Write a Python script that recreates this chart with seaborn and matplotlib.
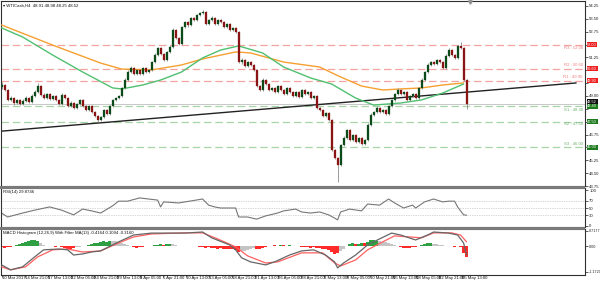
import numpy as np
import matplotlib
matplotlib.use("Agg")
import matplotlib.pyplot as plt
import matplotlib.transforms as mtransforms
import matplotlib.font_manager as fm
from matplotlib.patches import Rectangle
import seaborn as sns

# ---------------- data (8-hour candles) ----------------
first_open = 49.50
closes = [49.64, 49.35, 48.77, 48.88, 48.59, 48.77, 48.53, 48.71, 48.88, 48.65,
          49.00, 49.23, 49.58, 49.06, 48.88, 49.12, 48.82, 49.00, 48.77, 48.53,
          49.06, 48.88, 48.42, 48.59, 48.30, 48.53, 48.77, 48.42, 48.18, 48.42,
          48.07, 47.83, 47.60, 47.77, 48.18, 47.95, 48.42, 48.77, 48.88, 49.00,
          49.47, 49.93, 50.40, 50.63, 50.28, 50.52, 50.28, 50.63, 50.40, 50.52,
          50.98, 51.39, 51.80, 51.45, 51.10, 51.57, 51.86, 52.85, 52.38, 52.03,
          53.02, 53.32, 53.14, 53.55, 53.43, 53.72, 53.84, 53.90, 53.20, 53.43,
          53.55, 53.20, 53.43, 53.32, 53.02, 53.20, 52.85, 52.97, 52.73, 50.98,
          51.10, 50.75, 50.98, 50.81, 50.52, 49.58, 49.35, 49.93, 49.70, 49.35,
          49.47, 49.23, 49.58, 49.35, 49.12, 49.47, 49.23, 49.00, 49.23, 48.94,
          49.35, 49.12, 49.23, 48.88, 49.00, 48.30, 48.18, 47.83, 48.01, 47.60,
          45.85, 45.38, 44.97, 46.14, 46.55, 47.02, 46.43, 46.72, 46.32, 46.55,
          46.20, 46.43, 47.31, 47.89, 48.07, 48.30, 48.07, 48.18, 47.95, 48.42,
          48.77, 49.12, 49.35, 49.12, 49.23, 48.77, 49.00, 49.12, 48.88, 49.47,
          49.93, 50.40, 50.81, 50.98, 50.87, 51.10, 50.98, 50.63, 51.33, 51.68,
          51.39, 51.22, 51.92, 51.80, 49.93, 48.52]
highs = [49.80, 49.72, 49.42, 49.00, 48.95, 48.85, 48.82, 48.80, 48.98, 48.95,
         49.10, 49.32, 49.75, 49.62, 49.15, 49.20, 49.18, 49.08, 49.05, 48.82,
         49.15, 49.12, 48.92, 48.68, 48.64, 48.60, 48.85, 48.82, 48.48, 48.50,
         48.46, 48.12, 47.88, 47.85, 48.25, 48.24, 48.50, 48.85, 48.95, 49.08,
         49.55, 50.02, 50.50, 50.72, 50.68, 50.60, 50.58, 50.70, 50.68, 50.60,
         51.06, 51.48, 51.88, 51.85, 51.50, 51.65, 51.95, 52.98, 52.90, 52.45,
         53.10, 53.40, 53.38, 53.62, 53.62, 53.80, 53.92, 54.02, 53.95, 53.50,
         53.64, 53.60, 53.50, 53.50, 53.38, 53.28, 53.25, 53.05, 53.02, 52.78,
         51.20, 51.15, 51.06, 51.04, 50.86, 50.58, 49.65, 50.02, 50.00, 49.76,
         49.55, 49.52, 49.65, 49.62, 49.40, 49.55, 49.52, 49.28, 49.30, 49.28,
         49.42, 49.40, 49.30, 49.28, 49.08, 49.05, 48.36, 48.24, 48.08, 48.06,
         47.66, 45.92, 45.45, 46.22, 46.64, 47.10, 47.08, 46.80, 46.76, 46.62,
         46.60, 46.50, 47.40, 47.98, 48.15, 48.40, 48.36, 48.26, 48.24, 48.50,
         48.85, 49.20, 49.44, 49.40, 49.30, 49.28, 49.08, 49.20, 49.18, 49.55,
         50.02, 50.48, 50.90, 51.06, 51.04, 51.18, 51.15, 51.02, 51.42, 51.78,
         51.72, 51.45, 52.00, 52.15, 51.85, 49.98]
lows = [49.40, 49.28, 48.68, 48.70, 48.50, 48.52, 48.45, 48.48, 48.65, 48.58,
        48.60, 48.95, 49.18, 48.98, 48.80, 48.82, 48.75, 48.76, 48.70, 48.45,
        48.50, 48.80, 48.35, 48.38, 48.22, 48.25, 48.50, 48.36, 48.10, 48.14,
        48.00, 47.75, 47.50, 47.55, 47.72, 47.88, 47.90, 48.38, 48.70, 48.82,
        48.95, 49.42, 49.88, 50.35, 50.20, 50.22, 50.20, 50.24, 50.32, 50.35,
        50.48, 50.92, 51.34, 51.38, 51.02, 51.05, 51.50, 51.80, 52.30, 51.95,
        51.98, 52.96, 53.05, 53.08, 53.35, 53.38, 53.66, 53.78, 53.12, 53.14,
        53.38, 53.12, 53.15, 53.25, 52.95, 52.96, 52.78, 52.80, 52.66, 50.90,
        50.85, 50.68, 50.70, 50.74, 50.45, 49.50, 49.27, 49.30, 49.62, 49.28,
        49.30, 49.16, 49.18, 49.28, 49.05, 49.08, 49.16, 48.92, 48.95, 48.86,
        48.90, 49.05, 49.06, 48.80, 48.82, 48.22, 48.10, 47.75, 47.78, 47.52,
        45.78, 45.30, 43.98, 44.90, 46.08, 46.48, 46.36, 46.38, 46.25, 46.26,
        46.12, 46.15, 46.38, 47.26, 47.84, 48.02, 48.00, 48.02, 47.88, 47.90,
        48.38, 48.72, 49.06, 49.05, 49.06, 48.70, 48.72, 48.95, 48.80, 48.84,
        49.42, 49.88, 50.35, 50.75, 50.80, 50.82, 50.90, 50.55, 50.58, 51.28,
        51.32, 51.15, 51.18, 51.72, 49.85, 48.25]

ma_green_idx = [0, 7, 17, 27, 37, 40, 47, 53, 60, 67, 73, 79, 87, 94, 103, 110,
                118, 124, 133, 140, 147, 154]
ma_green = [52.97, 52.44, 51.39, 50.40, 49.47, 49.41, 49.64, 49.93, 50.40, 51.22,
            51.68, 51.92, 51.51, 50.69, 50.05, 49.70, 48.88, 48.47, 48.59, 48.77,
            49.17, 49.70]
ma_orange_idx = [0, 17, 33, 40, 50, 60, 67, 78, 83, 94, 106, 113, 120, 127, 133,
                 140, 147, 154]
ma_orange = [53.14, 51.97, 50.92, 50.57, 50.52, 50.81, 51.16, 51.57, 51.51, 50.98,
             50.69, 50.11, 49.58, 49.35, 49.41, 49.47, 49.64, 49.76]

trend_idx = [0, 191.5]
trend_val = [46.95, 49.76]

res_levels = [52.00, 50.60, 49.90]
res_names = ["R3", "R2", "R1"]
sup_levels = [48.40, 47.50, 46.00]
sup_names = ["S1", "S2", "S3"]
last_price = 48.52

rsi_idx = [0, 2, 7, 11, 16, 20, 24, 27, 30, 33, 37, 39, 42, 46, 52, 53, 54, 59, 67, 69,
           71, 73, 78, 79, 82, 85, 88, 92, 94, 98, 100, 103, 106, 109, 111, 112, 113, 116,
           120, 122, 126, 129, 131, 134, 137, 138, 141, 144, 147, 149, 151, 152, 154, 155]
rsi_val = [36, 25, 36, 44, 53, 44, 31, 47, 42, 36, 56, 69, 69, 78, 72, 53, 67, 64, 75, 58,
           53, 50, 50, 25, 25, 19, 28, 36, 42, 47, 39, 36, 39, 31, 22, 17, 39, 47,
           42, 61, 58, 75, 64, 50, 58, 50, 67, 75, 67, 69, 69, 53, 31, 30]

macd_idx = [0, 3, 7, 11, 14, 19, 22, 24, 27, 30, 33, 37, 39, 44, 50, 56, 61, 67, 70, 76,
            78, 80, 83, 88, 91, 96, 100, 104, 108, 111, 112, 114, 118, 122, 126, 130,
            133, 138, 142, 144, 149, 152, 154, 155]
macd_val = [-0.86, -1.09, -0.95, -0.49, -0.16, -0.12, -0.16, -0.40, -0.35, -0.26,
            -0.21, 0.07, 0.21, 0.53, 0.62, 0.62, 0.62, 0.67, 0.40, 0.07,
            -0.16, -0.53, -0.72, -0.86, -0.72, -0.40, -0.21, -0.16, -0.40, -0.72,
            -1.00, -0.77, -0.40, 0.07, 0.35, 0.62, 0.53, 0.30, 0.53, 0.67,
            0.62, 0.53, 0.16, -0.40]
signal_idx = [0, 3, 8, 12, 17, 22, 27, 33, 39, 44, 50, 61, 67, 72, 78, 82, 88, 92, 100,
              107, 111, 113, 118, 122, 127, 131, 136, 140, 144, 150, 153, 155]
signal_val = [-0.95, -1.09, -0.95, -0.49, -0.16, -0.12, -0.26, -0.21, 0.16, 0.44,
              0.58, 0.63, 0.63, 0.35, -0.02, -0.44, -0.77, -0.72, -0.30, -0.30,
              -0.77, -0.91, -0.63, -0.16, 0.21, 0.49, 0.44, 0.40, 0.63, 0.63,
              0.53, 0.21]
hist_val = [-0.05, -0.06, -0.04, -0.02, 0.02, 0.06,
            0.12, 0.18, 0.22, 0.26, 0.30, 0.30, 0.24,
            0.15, 0.08, 0.04,
            0.02, 0.00, -0.02, 0.02, -0.02,
            -0.06, -0.10, -0.12, -0.08,
            -0.04, -0.02, 0.02, 0.04, 0.06, 0.10,
            0.14, 0.18, 0.22, 0.24, 0.22, 0.24,
            0.26, 0.26, 0.22, 0.18, 0.12, 0.06,
            0.02, -0.04, -0.06, -0.04, -0.02,
            0.00, 0.02, 0.04, 0.06, 0.08,
            0.10, 0.08, 0.10, 0.12, 0.10, 0.06,
            0.04, 0.02, 0.04, 0.02, 0.00, 0.02, 0.00, -0.02,
            -0.04, -0.06, -0.05, -0.08, -0.06, -0.10, -0.08, -0.12, -0.10, -0.14, -0.12, -0.18, -0.24,
            -0.22, -0.20, -0.16, -0.12, -0.08,
            -0.12, -0.10, -0.06, -0.02,
            0.02, 0.04, 0.06, 0.04, 0.08, 0.06, 0.04, 0.06, 0.02, 0.04, 0.00,
            -0.02, -0.04, -0.02, -0.06, -0.04, -0.06, -0.08, -0.10, -0.12,
            -0.18, -0.28, -0.36, -0.30,
            -0.20, -0.10,
            0.04, 0.10, 0.14, 0.10, 0.12, 0.16, 0.14,
            0.22, 0.28, 0.30, 0.26,
            0.24, 0.22, 0.20, 0.16, 0.12, 0.08,
            0.02, -0.02, -0.06, -0.08, -0.06, -0.04,
            -0.02, 0.02, 0.06, 0.10, 0.14, 0.16, 0.12,
            0.10, 0.08, 0.06, 0.04, 0.02, 0.00,
            -0.02, 0.02, -0.04,
            -0.30, -0.50]
hist_col = ("rrrrgg" "ggggggg" "nnn" "nnrgr" "rrrr" "nngggg" "gggggg" "nnnnnn"
            "rrrrr" "ngggg" "grggnn" "nnnnnnnr" "rrrrrrrrrrrrr" "nnnnn" "rrrr"
            "ggrggrrgrgn" "rrrrrrrrr" "rrrr" "nn" "gggrggr" "gggg" "nnnnnn"
            "rrrrrr" "rgggggn" "nnnnnn" "rgr" "rr")

tick_labels = ["10 Mar 2017", "14 Mar 21:00", "17 Mar 13:00", "22 Mar 05:00",
               "24 Mar 21:00", "29 Mar 13:00", "3 Apr 05:00", "5 Apr 21:00",
               "10 Apr 13:00", "13 Apr 05:00", "18 Apr 21:00", "21 Apr 13:00",
               "26 Apr 05:00", "28 Apr 21:00", "3 May 13:00", "8 May 05:00",
               "10 May 21:00", "15 May 13:00", "18 May 05:00", "22 May 21:00",
               "25 May 13:00"]
price_ticks = [54.25, 53.50, 52.75, 52.00, 51.25, 50.50, 49.75, 49.00, 48.25,
               47.50, 46.75, 46.00, 45.25, 44.50, 43.75]

# ---------------- fonts ----------------
sns.set_style("white")
_names = {f.name for f in fm.fontManager.ttflist}
if "Liberation Sans Narrow" in _names:
    FONT, FS = "Liberation Sans Narrow", 3.6
else:
    FONT, FS = "Liberation Sans", 3.1
plt.rcParams['font.family'] = [FONT, 'DejaVu Sans']
FS_BOX = FS - 0.3

W, H = 600, 282
fig = plt.figure(figsize=(W / 100, H / 100), dpi=100)
fig.patch.set_facecolor("white")


def rect(x0, y0, x1, y1):
    return [x0 / W, 1 - y1 / H, (x1 - x0) / W, (y1 - y0) / H]


ax = fig.add_axes(rect(1, 1, 585, 186))
ax_rsi = fig.add_axes(rect(1, 188, 585, 227))
ax_macd = fig.add_axes(rect(1, 229, 585, 275))
XMIN, XMAX = -0.2, -0.2 + 584 / 3

for a in (ax, ax_rsi, ax_macd):
    a.set_xlim(XMIN, XMAX)
    a.set_facecolor("white")
    for s in a.spines.values():
        s.set_color("#303030")
        s.set_linewidth(0.8)
    a.yaxis.tick_right()
    a.tick_params(axis='y', labelsize=FS, length=2, width=0.5, pad=1,
                  colors="#202020", right=True, left=False)
    a.tick_params(axis='x', bottom=False, labelbottom=False)

# separators between panels
for y0, y1 in ((186, 188.5), (227, 229.5)):
    fig.patches.append(Rectangle((0, 1 - y1 / H), 585 / W, (y1 - y0) / H,
                                 transform=fig.transFigure, facecolor="#7a7a7a",
                                 edgecolor="none", zorder=5))

# ---------- main price panel ----------
c = np.array(closes)
o = np.array([first_open] + closes[:-1])
hi = np.array(highs)
lo = np.array(lows)
x = np.arange(len(c))
up = c >= o

ax.set_ylim(43.75, 54.54)
ax.set_yticks(price_ticks)
boxed = list(res_levels) + list(sup_levels) + [last_price]
# tick labels hidden behind the coloured value boxes (as in MT4)
ax.set_yticklabels(["" if any(abs(v - b) < 0.2 for b in boxed) else f"{v:.2f}"
                    for v in price_ticks])

for lv in res_levels:
    ax.axhline(lv, color="#f4a3a3", lw=0.9, ls=(0, (6, 3)), zorder=1)
for lv in sup_levels:
    ax.axhline(lv, color="#a8d5a8", lw=0.9, ls=(0, (6, 3)), zorder=1)
ax.axhline(last_price, color="#c8c8c8", lw=0.7, zorder=1)

sns.lineplot(x=trend_idx, y=trend_val, ax=ax, color="#222222", lw=1.0, zorder=2)
sns.lineplot(x=ma_orange_idx, y=ma_orange, ax=ax, color="#f5a030", lw=1.0, zorder=3)
sns.lineplot(x=ma_green_idx, y=ma_green, ax=ax, color="#50c070", lw=1.0, zorder=3)

ax.vlines(x, lo, hi, color="#8a8a8a", lw=0.6, zorder=4)
body = np.maximum(np.abs(c - o), 0.02)
ax.bar(x[up], body[up], bottom=o[up], width=0.62, color="#0d4a1a",
       edgecolor="#0d4a1a", lw=0.2, zorder=5)
ax.bar(x[~up], body[~up], bottom=c[~up], width=0.62, color="#8a1414",
       edgecolor="#8a1414", lw=0.2, zorder=5)

trans_lbl = mtransforms.blended_transform_factory(ax.transAxes, ax.transData)
lbl_off = {"R3": -0.18, "R2": 0.18, "R1": 0.18, "S1": -0.2, "S2": -0.15, "S3": 0.2}
box = dict(boxstyle="square,pad=0.12", ec="none")
for lv, nm in zip(res_levels, res_names):
    ax.text(0.996, lv + lbl_off[nm], f"{nm} : {lv:.2f}", transform=trans_lbl,
            ha="right", va="center", fontsize=FS, color="#f08080")
    ax.text(1.004, lv, f"{lv:.2f}", transform=trans_lbl, ha="left", va="center",
            fontsize=FS_BOX, color="white", zorder=10, clip_on=False,
            bbox={**box, "fc": "#ee2020"})
for lv, nm in zip(sup_levels, sup_names):
    ax.text(0.996, lv + lbl_off[nm], f"{nm} : {lv:.2f}", transform=trans_lbl,
            ha="right", va="center", fontsize=FS, color="#70b070")
    ax.text(1.004, lv, f"{lv:.2f}", transform=trans_lbl, ha="left", va="center",
            fontsize=FS_BOX, color="white", zorder=10, clip_on=False,
            bbox={**box, "fc": "#1d7a1d"})
ax.text(1.004, last_price + 0.15, f"{last_price:.2f}", transform=trans_lbl, ha="left",
        va="center", fontsize=FS_BOX, color="white", zorder=11, clip_on=False,
        bbox={**box, "fc": "#101010"})

ax.text(0.004, 0.985, "\u25BE WTICash,H4  48.91 48.98 48.25 48.52",
        transform=ax.transAxes, ha="left", va="top", fontsize=FS, color="#101010")
ax.plot([156.2], [54.50], marker="v", ms=2.5, color="#909090", clip_on=False, zorder=9)

# ---------- RSI panel ----------
ax_rsi.set_ylim(-2.8, 105.6)
ax_rsi.set_yticks([100, 70, 50, 30, 0])
ax_rsi.set_yticklabels(["100", "70", "50", "30", "0"])
for lv in (70, 50, 30):
    ax_rsi.axhline(lv, color="#b0b0b0", lw=0.5, ls=(0, (1, 1.5)))
sns.lineplot(x=rsi_idx, y=rsi_val, ax=ax_rsi, color="#777777", lw=0.8)
ax_rsi.text(0.004, 0.95, "RSI(14) 29.8746", transform=ax_rsi.transAxes,
            ha="left", va="top", fontsize=FS, color="#101010")

# ---------- MACD panel ----------
ax_macd.set_ylim(-1.33, 0.81)
ax_macd.set_yticks([0.7177, 0.0, -1.1720])
ax_macd.set_yticklabels(["0.7177", "0.00", "-1.1720"])
ax_macd.tick_params(axis='y', labelsize=FS - 0.4, pad=0.6)
cmap = {"g": "#2ea043", "r": "#ff2a2a", "n": "#c4c4c4"}
hv = np.array(hist_val)
ax_macd.bar(np.arange(len(hv)), hv, width=1.0,
            color=[cmap[ch] for ch in hist_col], edgecolor="none", zorder=2)
sns.lineplot(x=signal_idx, y=signal_val, ax=ax_macd, color="#ff6060", lw=0.9, zorder=3)
sns.lineplot(x=macd_idx, y=macd_val, ax=ax_macd, color="#666666", lw=0.9, zorder=4)
ax_macd.text(0.004, 0.96,
             "MACD Histogram (12,26,9) With Filter MA(13) -0.4164 0.1094 -0.3160",
             transform=ax_macd.transAxes, ha="left", va="top", fontsize=FS,
             color="#101010")

# x labels
xtr = mtransforms.blended_transform_factory(ax_macd.transData, ax_macd.transAxes)
tick_pos = [0.05 + i * 23 / 3 for i in range(len(tick_labels))]
for p, t in zip(tick_pos, tick_labels):
    ax_macd.text(p + 0.15, -0.03, t, transform=xtr, ha="left", va="top",
                 fontsize=FS, color="#101010", clip_on=False)
    ax_macd.plot([p, p], [0, -0.04], transform=xtr, color="#303030", lw=0.5,
                 clip_on=False)

for a in (ax, ax_rsi, ax_macd):
    leg = a.get_legend()
    if leg:
        leg.remove()
    a.set_xlim(XMIN, XMAX)
    a.set_xlabel("")
    a.set_ylabel("")

fig.savefig("out.png", dpi=100, facecolor="white")
